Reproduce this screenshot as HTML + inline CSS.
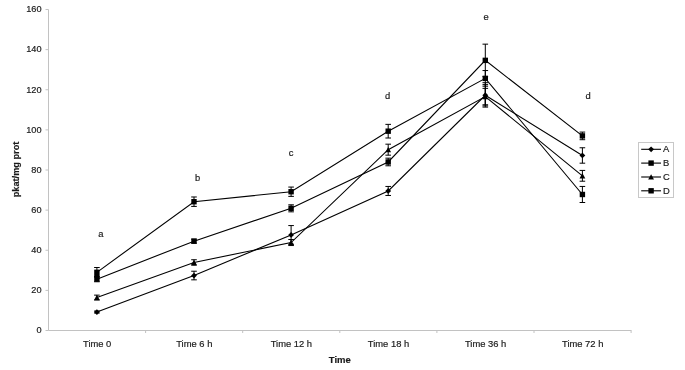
<!DOCTYPE html><html><head><meta charset="utf-8"><title>Chart</title><style>html,body{margin:0;padding:0;background:#fff}svg{display:block}text{font-family:"Liberation Sans",sans-serif;fill:#1a1a1a;stroke:#1a1a1a;stroke-width:0.18px}</style></head><body>
<svg width="685" height="370" viewBox="0 0 685 370">
<rect width="685" height="370" fill="#fff"/>
<g stroke="#c2c2c2" stroke-width="1" fill="none">
<path d="M48.5 9.5V330.5H631.5"/>
<path d="M45.5 330.50H48.5"/>
<path d="M45.5 290.38H48.5"/>
<path d="M45.5 250.25H48.5"/>
<path d="M45.5 210.12H48.5"/>
<path d="M45.5 170.00H48.5"/>
<path d="M45.5 129.88H48.5"/>
<path d="M45.5 89.75H48.5"/>
<path d="M45.5 49.62H48.5"/>
<path d="M45.5 9.50H48.5"/>
<path d="M145.60 330.5V333.0"/>
<path d="M242.70 330.5V333.0"/>
<path d="M339.80 330.5V333.0"/>
<path d="M436.90 330.5V333.0"/>
<path d="M534.00 330.5V333.0"/>
<path d="M631.10 330.5V333.0"/>
</g>
<g font-size="9.2" text-anchor="end">
<text x="41.5" y="333.3">0</text>
<text x="41.5" y="293.2">20</text>
<text x="41.5" y="253.1">40</text>
<text x="41.5" y="212.9">60</text>
<text x="41.5" y="172.8">80</text>
<text x="41.5" y="132.7">100</text>
<text x="41.5" y="92.5">120</text>
<text x="41.5" y="52.4">140</text>
<text x="41.5" y="12.3">160</text>
</g>
<g font-size="9.4" text-anchor="middle">
<text x="97.2" y="346.7">Time 0</text>
<text x="194.3" y="346.7">Time 6 h</text>
<text x="291.4" y="346.7">Time 12 h</text>
<text x="388.5" y="346.7">Time 18 h</text>
<text x="485.6" y="346.7">Time 36 h</text>
<text x="582.7" y="346.7">Time 72 h</text>
</g>
<text x="339.8" y="362.9" font-size="9.5" font-weight="bold" text-anchor="middle">Time</text>
<text transform="translate(19,169.5) rotate(-90)" font-size="9.2" font-weight="bold" text-anchor="middle">pkat/mg prot</text>
<g font-size="9.4" text-anchor="middle">
<text x="100.8" y="236.5">a</text>
<text x="197.5" y="180.7">b</text>
<text x="291.1" y="156.1">c</text>
<text x="387.5" y="98.8">d</text>
<text x="486.2" y="20.2">e</text>
<text x="588" y="99">d</text>
</g>
<polyline points="96.90,312.04 194.00,275.53 291.10,234.90 388.20,190.97 485.30,95.27 582.40,155.47" fill="none" stroke="#000" stroke-width="1.1"/>
<path d="M96.90 311.04V313.05M94.10 311.04h5.6M94.10 313.05h5.6" stroke="#000" stroke-width="1" fill="none"/>
<path d="M194.00 271.22V279.84M191.20 271.22h5.6M191.20 279.84h5.6" stroke="#000" stroke-width="1" fill="none"/>
<path d="M291.10 225.57V244.23M288.30 225.57h5.6M288.30 244.23h5.6" stroke="#000" stroke-width="1" fill="none"/>
<path d="M388.20 186.45V195.48M385.40 186.45h5.6M385.40 195.48h5.6" stroke="#000" stroke-width="1" fill="none"/>
<path d="M485.30 84.63V105.90M482.50 84.63h5.6M482.50 105.90h5.6" stroke="#000" stroke-width="1" fill="none"/>
<path d="M582.40 147.77V163.18M579.60 147.77h5.6M579.60 163.18h5.6" stroke="#000" stroke-width="1" fill="none"/>
<path d="M96.90 309.14L99.80 312.04L96.90 314.94L94.00 312.04Z" fill="#000"/>
<path d="M194.00 272.63L196.90 275.53L194.00 278.43L191.10 275.53Z" fill="#000"/>
<path d="M291.10 232.00L294.00 234.90L291.10 237.80L288.20 234.90Z" fill="#000"/>
<path d="M388.20 188.07L391.10 190.97L388.20 193.87L385.30 190.97Z" fill="#000"/>
<path d="M485.30 92.37L488.20 95.27L485.30 98.17L482.40 95.27Z" fill="#000"/>
<path d="M582.40 152.57L585.30 155.47L582.40 158.37L579.50 155.47Z" fill="#000"/>
<polyline points="96.90,272.32 194.00,201.70 291.10,191.73 388.20,131.18 485.30,78.37 582.40,194.48" fill="none" stroke="#000" stroke-width="1.1"/>
<path d="M96.90 267.50V277.13M94.10 267.50h5.6M94.10 277.13h5.6" stroke="#000" stroke-width="1" fill="none"/>
<path d="M194.00 196.98V206.41M191.20 196.98h5.6M191.20 206.41h5.6" stroke="#000" stroke-width="1" fill="none"/>
<path d="M291.10 187.07V196.38M288.30 187.07h5.6M288.30 196.38h5.6" stroke="#000" stroke-width="1" fill="none"/>
<path d="M388.20 124.36V138.00M385.40 124.36h5.6M385.40 138.00h5.6" stroke="#000" stroke-width="1" fill="none"/>
<path d="M485.30 70.55V86.20M482.50 70.55h5.6M482.50 86.20h5.6" stroke="#000" stroke-width="1" fill="none"/>
<path d="M582.40 186.45V202.50M579.60 186.45h5.6M579.60 202.50h5.6" stroke="#000" stroke-width="1" fill="none"/>
<rect x="94.20" y="269.62" width="5.4" height="5.4" fill="#000"/>
<rect x="191.30" y="199.00" width="5.4" height="5.4" fill="#000"/>
<rect x="288.40" y="189.03" width="5.4" height="5.4" fill="#000"/>
<rect x="385.50" y="128.48" width="5.4" height="5.4" fill="#000"/>
<rect x="482.60" y="75.67" width="5.4" height="5.4" fill="#000"/>
<rect x="579.70" y="191.78" width="5.4" height="5.4" fill="#000"/>
<polyline points="96.90,297.54 194.00,262.49 291.10,242.53 388.20,149.68 485.30,96.57 582.40,175.82" fill="none" stroke="#000" stroke-width="1.1"/>
<path d="M96.90 295.13V299.94M94.10 295.13h5.6M94.10 299.94h5.6" stroke="#000" stroke-width="1" fill="none"/>
<path d="M194.00 259.74V265.24M191.20 259.74h5.6M191.20 265.24h5.6" stroke="#000" stroke-width="1" fill="none"/>
<path d="M291.10 239.52V245.54M288.30 239.52h5.6M288.30 245.54h5.6" stroke="#000" stroke-width="1" fill="none"/>
<path d="M388.20 144.18V155.17M385.40 144.18h5.6M385.40 155.17h5.6" stroke="#000" stroke-width="1" fill="none"/>
<path d="M485.30 88.37V104.78M482.50 88.37h5.6M482.50 104.78h5.6" stroke="#000" stroke-width="1" fill="none"/>
<path d="M582.40 170.42V181.21M579.60 170.42h5.6M579.60 181.21h5.6" stroke="#000" stroke-width="1" fill="none"/>
<path d="M96.90 294.84L99.80 300.14L94.00 300.14Z" fill="#000"/>
<path d="M194.00 259.79L196.90 265.09L191.10 265.09Z" fill="#000"/>
<path d="M291.10 239.83L294.00 245.13L288.20 245.13Z" fill="#000"/>
<path d="M388.20 146.98L391.10 152.28L385.30 152.28Z" fill="#000"/>
<path d="M485.30 93.87L488.20 99.17L482.40 99.17Z" fill="#000"/>
<path d="M582.40 173.12L585.30 178.42L579.50 178.42Z" fill="#000"/>
<polyline points="96.90,279.14 194.00,241.16 291.10,208.32 388.20,161.97 485.30,60.36 582.40,135.89" fill="none" stroke="#000" stroke-width="1.1"/>
<path d="M96.90 276.53V281.75M94.10 276.53h5.6M94.10 281.75h5.6" stroke="#000" stroke-width="1" fill="none"/>
<path d="M194.00 239.16V243.17M191.20 239.16h5.6M191.20 243.17h5.6" stroke="#000" stroke-width="1" fill="none"/>
<path d="M291.10 204.81V211.83M288.30 204.81h5.6M288.30 211.83h5.6" stroke="#000" stroke-width="1" fill="none"/>
<path d="M388.20 158.16V165.79M385.40 158.16h5.6M385.40 165.79h5.6" stroke="#000" stroke-width="1" fill="none"/>
<path d="M485.30 44.15V76.57M482.50 44.15h5.6M482.50 76.57h5.6" stroke="#000" stroke-width="1" fill="none"/>
<path d="M582.40 132.08V139.71M579.60 132.08h5.6M579.60 139.71h5.6" stroke="#000" stroke-width="1" fill="none"/>
<rect x="94.20" y="276.44" width="5.4" height="5.4" fill="#000"/>
<rect x="191.30" y="238.46" width="5.4" height="5.4" fill="#000"/>
<rect x="288.40" y="205.62" width="5.4" height="5.4" fill="#000"/>
<rect x="385.50" y="159.28" width="5.4" height="5.4" fill="#000"/>
<rect x="482.60" y="57.66" width="5.4" height="5.4" fill="#000"/>
<rect x="579.70" y="133.19" width="5.4" height="5.4" fill="#000"/>
<path d="M485.30 82.7V107.1M482.50 82.7h5.6M482.50 107.1h5.6" stroke="#000" stroke-width="1" fill="none"/>
<path d="M94.20 275.7h5.4" stroke="#000" stroke-width="1.4" fill="none"/>
<rect x="638.5" y="142.5" width="35" height="55" fill="#fff" stroke="#c8c8c8" stroke-width="1"/>
<path d="M641.2 149.3H661" stroke="#000" stroke-width="1.1"/>
<path d="M651.10 146.40L654.00 149.30L651.10 152.20L648.20 149.30Z" fill="#000"/>
<text x="662.9" y="152.2" font-size="9.4">A</text>
<path d="M641.2 163.1H661" stroke="#000" stroke-width="1.1"/>
<rect x="648.40" y="160.40" width="5.4" height="5.4" fill="#000"/>
<text x="662.9" y="166.0" font-size="9.4">B</text>
<path d="M641.2 177.0H661" stroke="#000" stroke-width="1.1"/>
<path d="M651.10 174.30L654.00 179.60L648.20 179.60Z" fill="#000"/>
<text x="662.9" y="179.9" font-size="9.4">C</text>
<path d="M641.2 190.8H661" stroke="#000" stroke-width="1.1"/>
<rect x="648.40" y="188.10" width="5.4" height="5.4" fill="#000"/>
<text x="662.9" y="193.7" font-size="9.4">D</text>
</svg></body></html>
